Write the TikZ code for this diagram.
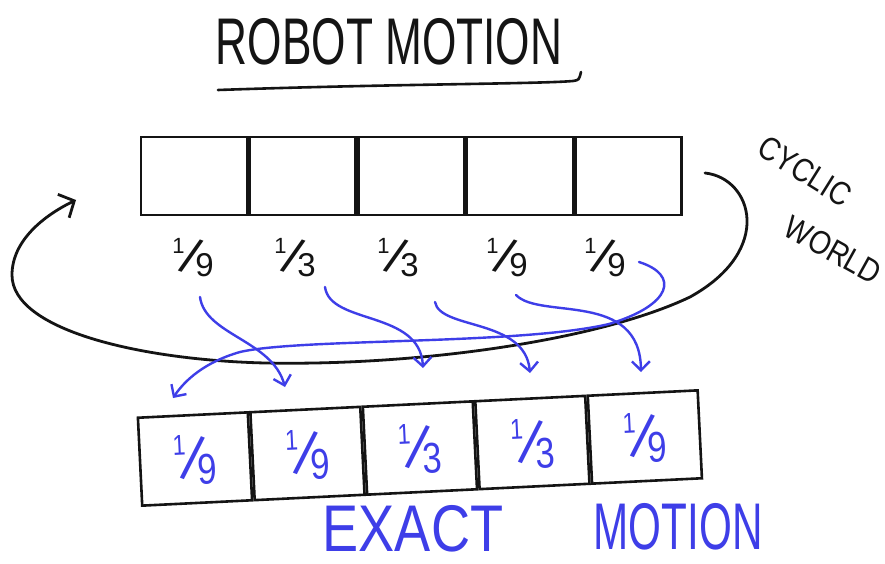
\documentclass[tikz,border=0pt]{standalone}
\usepackage{fontspec}
\setmainfont{Liberation Sans}
\usetikzlibrary{arrows.meta,calc}
\definecolor{pen}{RGB}{20,20,20}
\definecolor{ink}{RGB}{62,62,232}
\newcommand\myfrac[2]{\raisebox{17pt}{\fontsize{22}{22}\selectfont #1}\kern-6pt\rotatebox{-20}{\fontsize{50}{50}\selectfont /}\kern-9pt\raisebox{-6pt}{\fontsize{33}{33}\selectfont #2}}
\begin{document}
\begin{tikzpicture}[x=1pt,y=-1pt,
  tcell/.style={draw=pen, line width=2.6pt, minimum width=106pt, minimum height=78pt, inner sep=0pt},
  bcell/.style={draw=pen, line width=2.6pt, minimum width=110pt, minimum height=88pt, inner sep=0pt, text=ink, rotate=2.8},
  fracnode/.style={text=pen, inner sep=1pt},
  handtext/.style={inner sep=0pt},
  barrow/.style={draw=ink, line width=2.4pt, line cap=round, -{Straight Barb[length=9pt,width=18pt,line width=2.4pt]}},
  karrow/.style={draw=pen, line width=2.8pt, line cap=round, -{Straight Barb[length=12pt,width=26pt,line width=2.8pt]}},
  kline/.style={draw=pen, line width=2.6pt, line cap=round}]
\useasboundingbox[fill=white] (0,0) rectangle (885,564);

% title
\node[handtext, text=pen] (title) at (389,42) {\scalebox{0.67}[1]{\fontsize{66}{66}\selectfont ROBOT MOTION}};
\draw[kline] ($(title.center)+(-171,48)$) .. controls ($(title.center)+(0,42)$) and ($(title.center)+(150,42)$) .. ($(title.center)+(184,39)$) .. controls ($(title.center)+(190,38)$) .. ($(title.center)+(192,30)$);

% top row
\node[tcell] (t1) at (194,176) {};
\node[tcell, anchor=west] (t2) at (t1.east) {};
\node[tcell, anchor=west] (t3) at (t2.east) {};
\node[tcell, anchor=west] (t4) at (t3.east) {};
\node[tcell, anchor=west] (t5) at (t4.east) {};

% top fractions
\node[fracnode] (f1) at (193,257) {\myfrac19};
\node[fracnode] (f2) at (295,257) {\myfrac13};
\node[fracnode] (f3) at (398,257) {\myfrac13};
\node[fracnode] (f4) at (507,257) {\myfrac19};
\node[fracnode] (f5) at (605,257) {\myfrac19};

% cyclic world
\node[handtext, text=pen, rotate=-32] (cyc) at (805,171) {\scalebox{0.85}[1]{\fontsize{33}{33}\selectfont CYCLIC}};
\node[handtext, text=pen, rotate=-29] (wor) at (833,250) {\scalebox{0.85}[1]{\fontsize{33}{33}\selectfont WORLD}};

% black cyclic arrow
\coordinate (c1) at (705,173);
\coordinate (c2) at (76,200);
\draw[karrow] (c1) .. controls (752,178) and (775,250) .. (690,297)
  .. controls (600,340) and (420,366) .. (265,363)
  .. controls (140,360) and (12,330) .. (12,275)
  .. controls (12,240) and (45,215) .. (c2);

% bottom row
\node[bcell] (b1) at (195,459) {\scalebox{1.05}[1.3]{\myfrac19}};
\node[bcell, anchor=west] (b2) at (b1.east) {\scalebox{1.05}[1.3]{\myfrac19}};
\node[bcell, anchor=west] (b3) at (b2.east) {\scalebox{1.05}[1.3]{\myfrac13}};
\node[bcell, anchor=west] (b4) at (b3.east) {\scalebox{1.05}[1.3]{\myfrac13}};
\node[bcell, anchor=west] (b5) at (b4.east) {\scalebox{1.05}[1.3]{\myfrac19}};

% blue arrows
\coordinate (s1) at (200,297);
\coordinate (s2) at (325,287);
\coordinate (s3) at (435,302);
\coordinate (s4) at (516,295);
\coordinate (s5) at (639,262);
\coordinate (e1) at (173,398);
\coordinate (e2) at (285,387);
\coordinate (e3) at (423,368);
\coordinate (e4) at (530,373);
\coordinate (e5) at (641,372);
\draw[barrow] (s1) .. controls (205,335) and (272,340) .. (e2);
\draw[barrow] (s2) .. controls (330,325) and (420,310) .. (e3);
\draw[barrow] (s3) .. controls (440,330) and (525,318) .. (e4);
\draw[barrow] (s4) .. controls (540,320) and (640,290) .. (e5);
\draw[barrow] (s5) .. controls (680,275) and (672,305) .. (609,324)
  .. controls (520,345) and (300,338) .. (240,352)
  .. controls (205,362) and (185,380) .. (e1);

% exact motion
\node[handtext, text=ink] (exact) at (413,529) {\scalebox{0.82}[1]{\fontsize{66}{66}\selectfont EXACT}};
\node[handtext, text=ink] (motion) at (678,527) {\scalebox{0.64}[1]{\fontsize{66}{66}\selectfont MOTION}};
\end{tikzpicture}
\end{document}
